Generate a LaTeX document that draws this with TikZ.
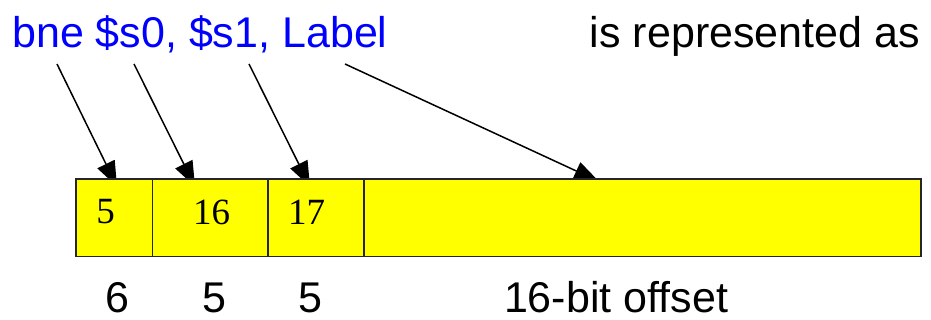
\documentclass[tikz,border=0pt]{standalone}
\usepackage{fontspec}
\setmainfont{Liberation Serif}
\newfontfamily\comicfont{Liberation Sans}
\usetikzlibrary{arrows.meta, positioning}
\definecolor{fieldyellow}{RGB}{255,255,0}

\begin{document}
\begin{tikzpicture}[x=1pt, y=-1pt, node distance=0pt,
    field/.style={rectangle, draw=black!85, line width=1.5pt, fill=fieldyellow, minimum height=77.5pt, inner sep=0pt, outer sep=0pt},
    asm/.style={font=\comicfont\fontsize{43}{50}\selectfont, inner sep=0pt},
    num/.style={font=\fontsize{37}{42}\selectfont, inner sep=0pt},
    line/.style={draw, -{Triangle[length=25pt, width=19pt]}, line width=1.5pt}]
    \useasboundingbox (0,0) rectangle (931,320);
    % instruction and caption
    \node [asm, text=blue, anchor=base west] (instr) at (12,48) {bne \$s0, \$s1, Label};
    \node [asm, anchor=base east] (repr) at (920,48) {is represented as};
    % arrow ends (tips run under the fields)
    \coordinate (op) at (57,64);   \coordinate (opT) at (117,186.5);
    \coordinate (rs) at (134,64);  \coordinate (rsT) at (195,186.5);
    \coordinate (rt) at (249,64);  \coordinate (rtT) at (310,186.5);
    \coordinate (lbl) at (345,64); \coordinate (lblT) at (599,181.5);
    \path [line] (op) -- (opT);
    \path [line] (rs) -- (rsT);
    \path [line] (rt) -- (rtT);
    \path [line] (lbl) -- (lblT);
    % instruction fields
    \node [field, minimum width=76.7pt, anchor=north west] (f1) at (76,179) {};
    \node [field, minimum width=115.3pt, right=of f1] (f2) {};
    \node [field, minimum width=96pt, right=of f2] (f3) {};
    \node [field, minimum width=557pt, right=of f3] (f4) {};
    \node [num] (v1) at (105.7,212) {5};
    \node [num] (v2) at (211.7,212) {16};
    \node [num] (v3) at (306.7,212) {17};
    % field sizes
    \node [asm, anchor=base] (w1) at (117,312) {6};
    \node [asm, anchor=base] (w2) at (214,312) {5};
    \node [asm, anchor=base] (w3) at (310,312) {5};
    \node [asm, anchor=base] (w4) at (616,312) {16-bit offset};
\end{tikzpicture}
\end{document}
